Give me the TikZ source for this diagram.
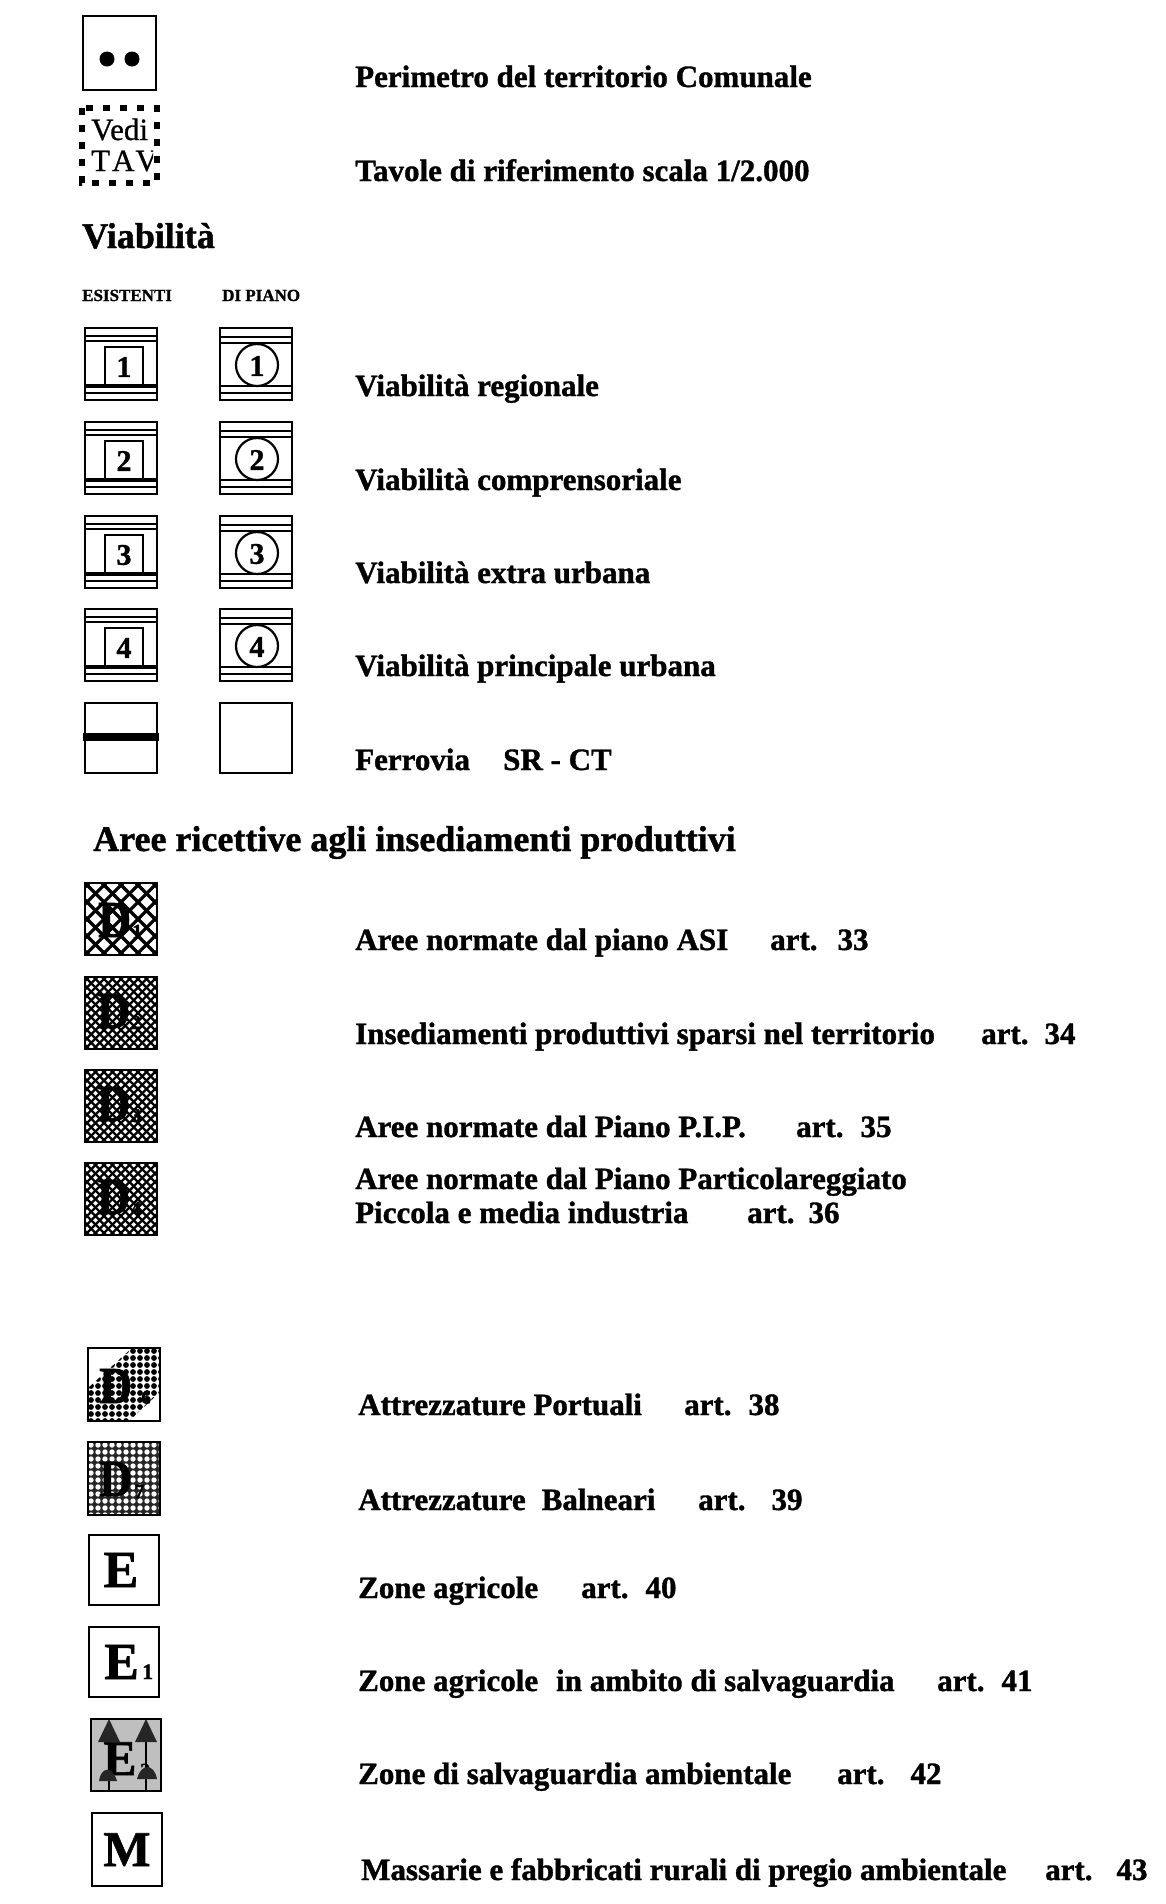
\documentclass[tikz,border=0pt]{standalone}
\usepackage{fontspec}
\setmainfont{Liberation Serif}[BoldFeatures={FakeBold=1.2},UprightFeatures={FakeBold=0.8}]
\begin{document}
\begin{tikzpicture}[x=1pt,y=-1pt,
  lbl/.style={anchor=base west, inner sep=0pt, font=\fontsize{31}{36}\selectfont\bfseries},
  hd/.style={anchor=base west, inner sep=0pt, font=\fontsize{36}{42}\selectfont\bfseries},
  sm/.style={anchor=base west, inner sep=0pt, font=\fontsize{17}{20}\selectfont\bfseries},
  num/.style={inner sep=0pt, font=\fontsize{30}{32}\selectfont\bfseries},
  big/.style={anchor=base west, inner sep=0pt, font=\fontsize{52}{56}\selectfont\bfseries},
  sub/.style={anchor=base west, inner sep=0pt, font=\fontsize{20}{22}\selectfont\bfseries},
  frame/.style={draw, line width=2.5}]
\useasboundingbox[fill=white] (0,0) rectangle (1166,1904);

% ---------- Perimetro ----------
\draw[frame] (83,16) rectangle (156,90);
\fill (107,59) circle (7.5);
\fill (132,59) circle (7.5);
\node[lbl] (per) at (355,87) {Perimetro del territorio Comunale};

% ---------- Vedi TAV ----------
\begin{scope}
  \clip (82,108) rectangle (153,183);
  \node[anchor=base west, inner sep=0pt, font=\fontsize{31}{33}\selectfont] (vedi) at (91,140) {Vedi};
  \node[anchor=base west, inner sep=0pt, font=\fontsize{31}{33}\selectfont] (tav) at (91,171) {T\kern2pt A\kern1pt V};
\end{scope}
\draw[line width=6, dash pattern=on 7 off 10] (82,108) rectangle (157,183);
\node[lbl] (tavole) at (355,181) {Tavole di riferimento scala 1/2.000};

% ---------- Viabilita ----------
\node[hd] (viab) at (82,248) {Viabilità};
\node[sm] (esi) at (82,301) {ESISTENTI};
\node[sm] (dip) at (222,301) {DI PIANO};

\foreach \n/\t in {1/328,2/422,3/516,4/609}{
  % esistenti
  \draw[frame] (85,\t) rectangle ++(72,72);
  \draw[line width=1.8] (85,\t+8) -- ++(72,0);
  \draw[line width=2.5] (85,\t+13) -- ++(72,0);
  \draw[line width=2.2] (105,\t+19) rectangle (143,\t+57);
  \draw[line width=3.5] (85,\t+58) -- ++(72,0);
  \draw[line width=1.8] (85,\t+65) -- ++(72,0);
  \node[num] (ex\n) at (124,\t+39) {\n};
  % di piano
  \draw[frame] (220,\t) rectangle ++(72,72);
  \draw[line width=1.8] (220,\t+9) -- ++(72,0);
  \draw[line width=2.5] (220,\t+15) -- ++(72,0);
  \draw[line width=2.5] (220,\t+58) -- ++(72,0);
  \draw[line width=1.8] (220,\t+65) -- ++(72,0);
  \draw[line width=2.2,fill=white] (257,\t+37) circle (21);
  \node[num] (pi\n) at (257,\t+38) {\n};
}
\node[lbl] (v1) at (355,396) {Viabilità regionale};
\node[lbl] (v2) at (355,490) {Viabilità comprensoriale};
\node[lbl] (v3) at (355,583) {Viabilità extra urbana};
\node[lbl] (v4) at (355,676) {Viabilità principale urbana};

% Ferrovia
\draw[frame] (85,703) rectangle ++(72,70);
\fill (83,733) rectangle (159,741);
\draw[frame] (220,703) rectangle ++(72,70);
\node[lbl] (fer) at (355,770) {Ferrovia};
\node[lbl] (srct) at (503,770) {SR - CT};

% ---------- Aree ricettive ----------
\node[hd] (aree) at (93,851) {Aree ricettive agli insediamenti produttivi};

% D1
\begin{scope}
  \clip (85,883) rectangle ++(72,72);
  \foreach \k in {-85,-68,...,85}{
    \draw[line width=3.2] (85+\k,883) -- ++(72,72);
    \draw[line width=3.2] (85+\k,955) -- ++(72,-72);
  }
\end{scope}
\draw[frame] (85,883) rectangle ++(72,72);
\node[big] (d1) at (98,937) {\scalebox{0.88}[1]{D}};
\node[sub] (d1s) at (132,938) {1};

% D2-D4
\foreach \n/\t in {2/977,3/1070,4/1163}{
  \begin{scope}
    \clip (85,\t) rectangle ++(72,72);
    \foreach \k in {-85,-76.5,...,85}{
      \draw[line width=2.4] (85+\k,\t) -- ++(72,72);
      \draw[line width=2.4] (85+\k,\t+72) -- ++(72,-72);
    }
  \end{scope}
  \draw[frame] (85,\t) rectangle ++(72,72);
  \node[big] (d\n) at (97,\t+51) {\scalebox{0.88}[1]{D}};
  \node[sub] (d\n s) at (131,\t+52) {\n};
}

\node[lbl] (t1) at (355,950) {Aree normate dal piano ASI};
\node[lbl] (a33) at (770,950) {art.\hspace{20pt}33};
\node[lbl] (t2) at (355,1044) {Insediamenti produttivi sparsi nel territorio};
\node[lbl] (a34) at (981,1044) {art.\hspace{16pt}34};
\node[lbl] (t3) at (355,1137) {Aree normate dal Piano P.I.P.};
\node[lbl] (a35) at (796,1137) {art.\hspace{17pt}35};
\node[lbl] (t4a) at (355,1189) {Aree normate dal Piano Particolareggiato};
\node[lbl] (t4b) at (355,1223) {Piccola e media industria};
\node[lbl] (a36) at (747,1223) {art.\hspace{14pt}36};

% D6
\begin{scope}
  \clip (88,1388) -- (132,1348) -- (160,1348) -- (160,1392) -- (129,1421) -- (88,1421) -- cycle;
  \foreach \i in {0,...,10}{
    \foreach \j in {0,...,10}{
      \fill (91+\i*7,1351+\j*7) circle (2.9);
    }
  }
\end{scope}
\draw[frame] (88,1348) rectangle (160,1421);
\node[big] (d6) at (99,1403) {\scalebox{0.88}[1]{D}};
\node[sub] (d6s) at (141,1404) {6};

% D7
\fill[black!85] (88,1442) rectangle (160,1515);
\begin{scope}
  \clip (88,1442) rectangle (160,1515);
  \foreach \i in {0,...,10}{
    \foreach \j in {0,...,10}{
      \fill[white] (91+\i*7,1445+\j*7) circle (2.7);
    }
  }
\end{scope}
\draw[frame] (88,1442) rectangle (160,1515);
\node[big] (d7) at (99,1496) {\scalebox{0.88}[1]{D}};
\node[sub] (d7s) at (134,1498) {7};

% E
\draw[frame] (89,1535) rectangle (159,1605);
\node[anchor=base, inner sep=0pt, font=\fontsize{52}{56}\selectfont\bfseries] (e) at (121,1587) {E};

% E1
\draw[frame] (89,1627) rectangle (159,1697);
\node[anchor=base west, inner sep=0pt, font=\fontsize{52}{56}\selectfont\bfseries] (e1) at (104,1679) {E};
\node[anchor=base west, inner sep=0pt, font=\fontsize{22}{24}\selectfont\bfseries] (e1s) at (142,1679) {1};

% E2
\fill[black!25] (91,1719) rectangle (161,1791);
\draw[line width=2.5] (109,1735) -- (109,1791);
\draw[line width=2.5] (146,1735) -- (146,1791);
\node[anchor=base west, inner sep=0pt, font=\fontsize{50}{54}\selectfont\bfseries] (e2) at (103,1775) {E};
\node[sub] (e2s) at (140,1777) {2};
\fill[black!85] (109,1719) -- (120,1742) -- (98,1742) -- cycle;
\fill[black!85] (146,1719) -- (157,1742) -- (135,1742) -- cycle;
\fill[black!85] (99,1781) .. controls (101,1767) and (112,1765) .. (117,1781) -- cycle;
\fill[black!85] (137,1779) .. controls (141,1763) and (154,1763) .. (157,1779) -- cycle;
\draw[frame] (91,1719) rectangle (161,1791);

% M
\draw[frame] (92,1813) rectangle (162,1886);
\node[anchor=base, inner sep=0pt, font=\fontsize{50}{54}\selectfont\bfseries] (m) at (127,1866) {M};

\node[lbl] (t6) at (358,1415) {Attrezzature Portuali};
\node[lbl] (a38) at (684,1415) {art.\hspace{17pt}38};
\node[lbl] (t7) at (358,1510) {Attrezzature\hspace{16pt}Balneari};
\node[lbl] (a39) at (698,1510) {art.\hspace{26pt}39};
\node[lbl] (te) at (358,1598) {Zone agricole};
\node[lbl] (a40) at (581,1598) {art.\hspace{17pt}40};
\node[lbl] (te1) at (358,1691) {Zone agricole\hspace{18pt}in ambito di salvaguardia};
\node[lbl] (a41) at (937,1691) {art.\hspace{17pt}41};
\node[lbl] (te2) at (358,1784) {Zone di salvaguardia ambientale};
\node[lbl] (a42) at (837,1784) {art.\hspace{26pt}42};
\node[lbl] (tm) at (361,1880) {Massarie e fabbricati rurali di pregio ambientale};
\node[lbl] (a43) at (1045,1880) {art.\hspace{24pt}43};
\end{tikzpicture}
\end{document}
